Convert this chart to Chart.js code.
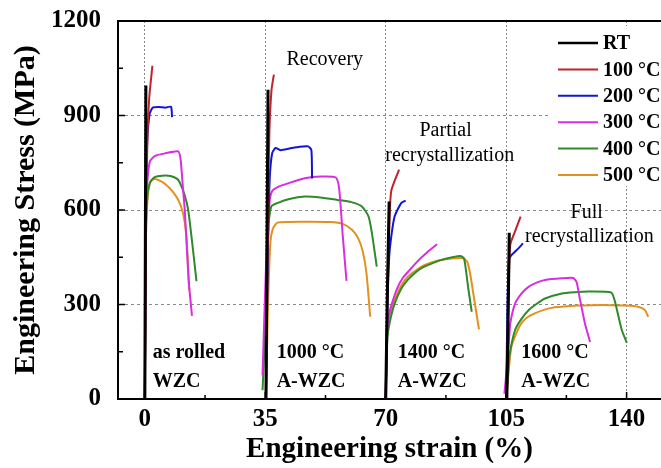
<!DOCTYPE html>
<html>
<head>
<meta charset="utf-8">
<script src="https://cdn.jsdelivr.net/npm/chart.js@4.4.1/dist/chart.umd.min.js"></script>
<style>
  html, body { margin: 0; padding: 0; background: #fff; }
  canvas { display: block; }
</style>
</head>
<body>
<canvas id="chart" width="661" height="468"></canvas>
<script>
// strain (%) / stress (MPa) per test temperature, null = gap between the four material states
const tempLabels = ['RT', '100 °C', '200 °C', '300 °C', '400 °C', '500 °C'];
const tempColors = ['#000000', '#c0232b', '#1414d8', '#d82ee0', '#2e8a2a', '#e3901f'];

const strainRT = [0, 0.15, 0.3, null, 35.2, 35.5, 35.8, null, 70, 70.5, 71.0, null, 105.2, 105.6, 105.9];
const stressRT = [0, 500, 995, null, 0, 500, 982, null, 0, 350, 627, null, 0, 280, 528];

const strain100 = [0, 0.4, 0.8, 1.3, 2.2, null,
  35.2, 35.8, 36.2, 36.8, 37.5, null,
  70, 70.6, 71.2, 71.6, 72.5, 73.9, null,
  105.2, 105.6, 106, 106.3, 107.5, 109.2];
const stress100 = [0, 600, 850, 960, 1058, null,
  0, 600, 850, 980, 1030, null,
  0, 400, 600, 660, 690, 728, null,
  0, 300, 460, 495, 530, 579];

const strain200 = [0, 0.3, 0.7, 1.4, 2.3, 4, 6, 7.6, 7.9, null,
  35.2, 35.8, 36.3, 37, 38, 39.5, 42, 45, 47.5, 48.4, 48.6, null,
  70, 70.5, 71, 71.6, 72.6, 74.5, 75.8, null,
  105, 105.4, 105.8, 106.4, 108, 109.9];
const stress200 = [0, 650, 820, 905, 925, 927, 925, 928, 895, null,
  0, 500, 700, 780, 797, 790, 795, 801, 802, 790, 700, null,
  0, 300, 450, 515, 580, 622, 630, null,
  0, 300, 440, 455, 472, 494];

const strain300 = [0, 0.3, 0.8, 1.5, 3, 6, 9.7, 10.4, 11.0, 11.6, 12.2, 12.8, 13.7, null,
  34.2, 35.3, 36.2, 37, 39, 41.7, 46.5, 51.3, 55.5, 56.5, 57.5, 58.6, null,
  70, 70.3, 71, 72, 73.5, 75, 77, 79.5, 82, 84.9, null,
  104.5, 105.2, 105.8, 106.2, 107.6, 109.5, 111.5, 114, 116.3, 121.2, 124.5, 125.5, 126.2, 127.9, 129.4];
const stress300 = [0, 600, 700, 755, 772, 780, 786, 760, 680, 600, 480, 368, 264, null,
  75, 450, 620, 660, 675, 685, 701, 706, 703, 665, 520, 375, null,
  0, 200, 270, 310, 355, 385, 410, 440, 465, 491, null,
  17, 100, 180, 240, 303, 335, 356, 370, 378, 383, 384, 370, 330, 240, 181];

const strain400 = [0, 0.3, 0.8, 1.6, 3, 5, 7.5, 9.5, 10.2, 11.5, 12.6, 14.0, 15.0, null,
  34.2, 35.3, 36, 36.8, 38.5, 42, 46.5, 51, 56, 60, 63, 65, 66, 67.4, null,
  70, 70.5, 71.5, 72.6, 74.5, 76.4, 79, 81.2, 84, 86, 89, 91.8, 92.8, 94, 95, null,
  105, 105.5, 106, 107.6, 109.5, 111.5, 114, 116.3, 121.2, 125, 128.9, 135.5, 136.5, 138.6, 140.1];
const stress400 = [0, 550, 650, 690, 705, 709, 708, 698, 686, 650, 600, 473, 374, null,
  28, 300, 560, 612, 622, 635, 643, 640, 632, 625, 612, 580, 526, 420, null,
  0, 197, 260, 303, 350, 378, 405, 420, 433, 441, 449, 454, 445, 350, 277, null,
  0, 70, 140, 219, 255, 282, 303, 319, 335, 339, 341, 338, 314, 219, 178];

const strain500 = [0, 0.3, 0.8, 1.5, 2.5, 4, 6, 8, 9.7, 11.1, 12.1, 12.9, null,
  35.2, 35.8, 36.5, 37.2, 38.5, 42, 48, 54, 57.5, 60.2, 62, 63.3, 64.4, 65.5, null,
  70, 70.4, 71.2, 72.6, 74.5, 76.4, 79, 81.2, 84, 86, 89, 92.5, 93.7, 94.5, 95.6, 97.1, null,
  105, 105.5, 106, 106.5, 108, 109.4, 111, 113.3, 116, 119.1, 125.9, 130, 135.6, 140, 143.3, 145.3, 146.3];
const stress500 = [0, 500, 640, 685, 698, 695, 682, 660, 632, 590, 515, 345, null,
  0, 300, 500, 540, 560, 562, 563, 562, 556, 537, 510, 470, 400, 261, null,
  0, 200, 270, 314, 360, 388, 410, 425, 436, 441, 446, 447, 435, 400, 325, 221, null,
  0, 60, 120, 165, 210, 240, 258, 272, 283, 291, 297, 298, 298, 297, 293, 283, 261];

const strainTicks = [0, 35, 70, 105, 140];
const strainMinor = [17.5, 52.5, 87.5, 122.5];
const stressTicks = [0, 300, 600, 900, 1200];
const stressMinor = [150, 450, 750, 1050];

const allStrain = [strainRT, strain100, strain200, strain300, strain400, strain500];
const allStress = [stressRT, stress100, stress200, stress300, stress400, stress500];

// text notes in data space: [text, x, y, align, bold]
const notes = [
  ['Recovery', 52.3, 1078, 'center', false],
  ['Partial', 87.4, 852, 'center', false],
  ['recrystallization', 88.6, 772, 'center', false],
  ['Full', 128.4, 591, 'center', false],
  ['recrystallization', 129.2, 514, 'center', false],
  ['as rolled', 2.3, 145, 'left', true],
  ['WZC', 2.3, 56, 'left', true],
  ['1000 °C', 38.3, 145, 'left', true],
  ['A-WZC', 38.3, 56, 'left', true],
  ['1400 °C', 73.5, 145, 'left', true],
  ['A-WZC', 73.5, 56, 'left', true],
  ['1600 °C', 109.4, 145, 'left', true],
  ['A-WZC', 109.4, 56, 'left', true]
];

const serif = '"Liberation Serif", "Times New Roman", serif';

const datasets = tempLabels.map((label, k) => ({
  label,
  data: allStrain[k].map((x, i) => ({ x, y: allStress[k][i] })),
  borderColor: tempColors[k],
  borderWidth: k === 0 ? 3 : 2,
  pointRadius: 0,
  showLine: true,
  spanGaps: false,
  tension: 0.2
}));

const framePlugin = {
  id: 'frame',
  afterDatasetsDraw(chart) {
    const { ctx, chartArea: a, scales: { x, y } } = chart;
    ctx.save();
    ctx.strokeStyle = '#000';
    ctx.lineWidth = 2;
    ctx.beginPath();
    ctx.moveTo(a.left - 1, a.top);
    ctx.lineTo(a.right, a.top);
    ctx.stroke();
    ctx.lineWidth = 1.5;
    ctx.beginPath();
    strainTicks.forEach(v => { const p = x.getPixelForValue(v); ctx.moveTo(p, a.bottom); ctx.lineTo(p, a.bottom - 7); });
    strainMinor.forEach(v => { const p = x.getPixelForValue(v); ctx.moveTo(p, a.bottom); ctx.lineTo(p, a.bottom - 4); });
    stressTicks.forEach(v => { const p = y.getPixelForValue(v); ctx.moveTo(a.left, p); ctx.lineTo(a.left + 7, p); });
    stressMinor.forEach(v => { const p = y.getPixelForValue(v); ctx.moveTo(a.left, p); ctx.lineTo(a.left + 5, p); });
    ctx.stroke();

    // notes
    ctx.fillStyle = '#000';
    ctx.textBaseline = 'middle';
    notes.forEach(([t, nx, ny, align, bold]) => {
      ctx.font = (bold ? 'bold ' : '') + '20px ' + serif;
      ctx.textAlign = align;
      ctx.fillText(t, x.getPixelForValue(nx), y.getPixelForValue(ny));
    });

    // legend box
    ctx.fillStyle = '#fff';
    ctx.fillRect(551, 26, 110, 160);
    ctx.font = 'bold 20px ' + serif;
    ctx.textAlign = 'left';
    chart.data.datasets.forEach((ds, i) => {
      const ly = 43 + i * 26.4;
      ctx.strokeStyle = ds.borderColor;
      ctx.lineWidth = i === 0 ? 2.5 : 2;
      ctx.beginPath();
      ctx.moveTo(558, ly);
      ctx.lineTo(598, ly);
      ctx.stroke();
      ctx.fillStyle = '#000';
      ctx.fillText(ds.label, 603, ly + 1);
    });
    ctx.restore();
  }
};

new Chart(document.getElementById('chart'), {
  type: 'scatter',
  data: { datasets },
  options: {
    responsive: false,
    animation: false,
    layout: { padding: { top: 21, right: 0, left: 0, bottom: 0 } },
    plugins: { legend: { display: false }, tooltip: { enabled: false } },
    scales: {
      x: {
        type: 'linear',
        min: -7.8,
        max: 150,
        afterBuildTicks: s => { s.ticks = strainTicks.map(v => ({ value: v })); },
        afterFit: s => { s.height = 69; s.paddingLeft = 0; s.paddingRight = 0; },
        grid: { color: '#8a8a8a', lineWidth: 1, drawTicks: false },
        border: { display: true, color: '#000', width: 2, dash: [2, 2] },
        ticks: { padding: 6, color: '#000', font: { family: serif, size: 25, weight: 'bold' }, maxRotation: 0,
          callback: v => String(v) },
        title: { display: true, text: 'Engineering strain (%)', color: '#000', padding: { top: 0, bottom: 1 },
          font: { family: serif, size: 29, weight: 'bold' } }
      },
      y: {
        min: 0,
        max: 1200,
        afterBuildTicks: s => { s.ticks = stressTicks.map(v => ({ value: v })); },
        afterFit: s => { s.width = 118; s.paddingTop = 0; s.paddingBottom = 0; },
        grid: { color: '#8a8a8a', lineWidth: 1, drawTicks: false },
        border: { display: true, color: '#000', width: 2, dash: [3, 3] },
        ticks: { padding: 17, color: '#000', font: { family: serif, size: 25, weight: 'bold' },
          callback: v => String(v) },
        title: { display: true, text: 'Engineering Stress (MPa)', color: '#000', padding: { top: 8, bottom: 0 },
          font: { family: serif, size: 30, weight: 'bold' } }
      }
    }
  },
  plugins: [framePlugin]
});
</script>
</body>
</html>
